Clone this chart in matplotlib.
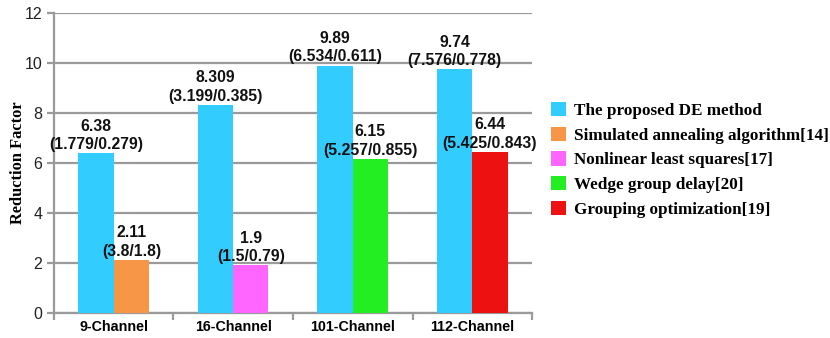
import numpy as np
import matplotlib.pyplot as plt

channels = ['9-Channel', '16-Channel', '101-Channel', '112-Channel']
de_values = [6.38, 8.309, 9.89, 9.74]
de_notes = ['(1.779/0.279)', '(3.199/0.385)', '(6.534/0.611)', '(7.576/0.778)']

# one competing method per channel count
other_names = ['Simulated annealing algorithm[14]', 'Nonlinear least squares[17]',
               'Wedge group delay[20]', 'Grouping optimization[19]']
other_values = [2.11, 1.9, 6.15, 6.44]
other_notes = ['(3.8/1.8)', '(1.5/0.79)', '(5.257/0.855)', '(5.425/0.843)']
other_colors = ['#F79646', '#FF66FF', '#22EE22', '#EE1111']
de_color = '#33CCFF'

fig = plt.figure(figsize=(8.3, 3.38), dpi=100)
ax = fig.add_axes([0.065, 0.074, 0.576, 0.888])

x = np.arange(len(channels))
w = 0.295

handles = []
h = ax.bar(x - w / 2, de_values, w, color=de_color, zorder=3, label='The proposed DE method')
handles.append(h)
for i, (name, val, col) in enumerate(zip(other_names, other_values, other_colors)):
    hb = ax.bar(x[i] + w / 2, val, w, color=col, zorder=3, label=name)
    handles.append(hb)

lab = dict(ha='center', va='bottom', fontsize=11.3, fontweight='bold',
           family='Liberation Sans', color='#111111', linespacing=1.3, zorder=4)
for i in range(len(channels)):
    ax.text(x[i] - w / 2, de_values[i] + 0.05, f'{de_values[i]}\n{de_notes[i]}', **lab)
    ax.text(x[i] + w / 2, other_values[i] + 0.05, f'{other_values[i]}\n{other_notes[i]}', **lab)

ax.set_xlim(-0.5, len(channels) - 0.5)
ax.set_ylim(0, 12)
ax.set_yticks(range(0, 13, 2))
ax.yaxis.grid(True, color='#9a9a9a', linewidth=1.6, zorder=0)
ax.set_axisbelow(True)

ax.set_xticks(x)
ax.set_xticklabels(channels, fontsize=10.3, fontweight='bold', family='Liberation Sans')
ax.set_xticks(np.arange(-0.5, len(channels)), minor=True)
ax.tick_params(axis='x', which='major', length=0, pad=5)
ax.tick_params(axis='x', which='minor', length=5, width=1.6, color='#9a9a9a')
ax.tick_params(axis='y', length=5, width=1.6, color='#9a9a9a', labelsize=11.5, labelcolor='#222222')
for t in ax.get_yticklabels():
    t.set_family('Liberation Sans')

for s in ['top', 'right']:
    ax.spines[s].set_visible(False)
for s in ['left', 'bottom']:
    ax.spines[s].set_color('#9a9a9a')
    ax.spines[s].set_linewidth(1.6)

ax.set_ylabel('Reduction Factor', fontsize=11.8, fontweight='bold', family='Liberation Serif', labelpad=-1)

fig.legend(handles=handles, loc='center left', bbox_to_anchor=(0.654, 0.527),
           frameon=False, prop={'family': 'Liberation Serif', 'weight': 'bold', 'size': 12.3},
           handlelength=0.85, handleheight=0.9, handletextpad=0.5, labelspacing=0.45,
           borderpad=0)

fig.savefig('out.png', dpi=100)
